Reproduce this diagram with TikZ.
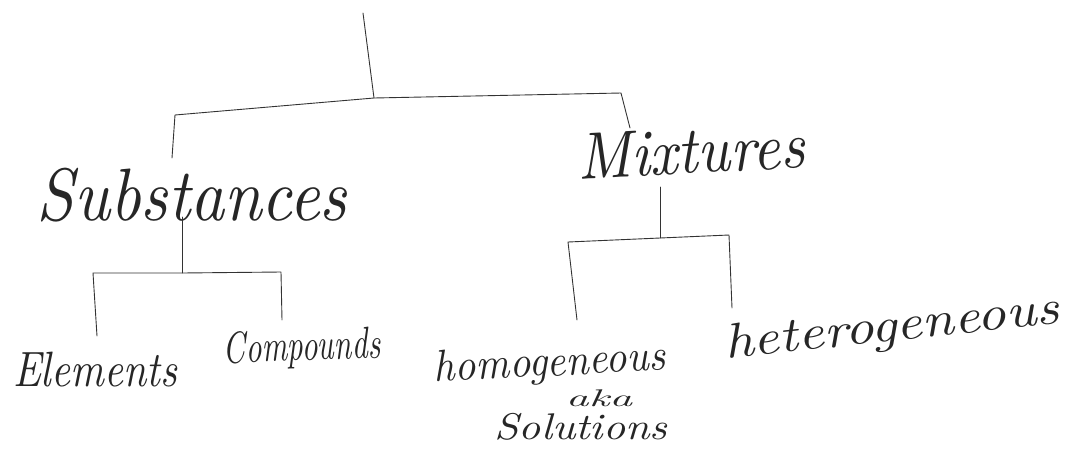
\documentclass[tikz,border=0pt]{standalone}
\usepackage{graphicx}
\newcommand{\hw}[3]{\resizebox*{#1}{#2}{\itshape #3}}
\tikzset{
  br/.style={draw=black!80, line width=0.9pt, line cap=round, line join=round},
  lbl/.style={inner sep=0pt, outer sep=0pt, text=black!85}
}
\begin{document}
\begin{tikzpicture}[x=1pt,y=-1pt]
\useasboundingbox (0,0) rectangle (1072,448);
% labels
\node[lbl] (sub) at (192,195) {\hw{310pt}{54pt}{Substances}};
\node[lbl, rotate=3] (mix) at (691,151) {\hw{228pt}{46pt}{Mixtures}};
\node[lbl] (ele) at (95,370) {\hw{164pt}{35pt}{Elements}};
\node[lbl, rotate=2] (com) at (302,349) {\hw{157pt}{40pt}{Compounds}};
\node[lbl, rotate=3] (hom) at (550,365) {\hw{232pt}{40pt}{homogeneous}};
\node[lbl] (aka) at (599,398) {\hw{66pt}{17pt}{aka}};
\node[lbl] (sol) at (581,427) {\hw{173pt}{27pt}{Solutions}};
\node[lbl, rotate=6] (het) at (892,329) {\hw{336pt}{44pt}{heterogeneous}};
% junction coordinates
\coordinate (top) at (363,13);
\coordinate (j1) at (374,98);
\coordinate (j1l) at (175,115);
\coordinate (j1r) at (621,93);
\coordinate (subIn) at (172,158);
\coordinate (mixIn) at (630,128);
\coordinate (subOut) at (182,217);
\coordinate (j2) at (182,273);
\coordinate (j2l) at (93,273);
\coordinate (j2r) at (281,272);
\coordinate (eleIn) at (97,336);
\coordinate (comIn) at (282,320);
\coordinate (mixOut) at (660,187);
\coordinate (j3) at (660,238);
\coordinate (j3l) at (568,242);
\coordinate (j3r) at (729,235);
\coordinate (homIn) at (577,320);
\coordinate (hetIn) at (732,308);
% connectors
\draw[br] (top) -- (j1);
\draw[br] (subIn) -- (j1l) -- (j1) -- (j1r) -- (mixIn);
\draw[br] (subOut) -- (j2);
\draw[br] (eleIn) -- (j2l) -- (j2) -- (j2r) -- (comIn);
\draw[br] (mixOut) -- (j3);
\draw[br] (homIn) -- (j3l) -- (j3) -- (j3r) -- (hetIn);
\end{tikzpicture}
\end{document}
